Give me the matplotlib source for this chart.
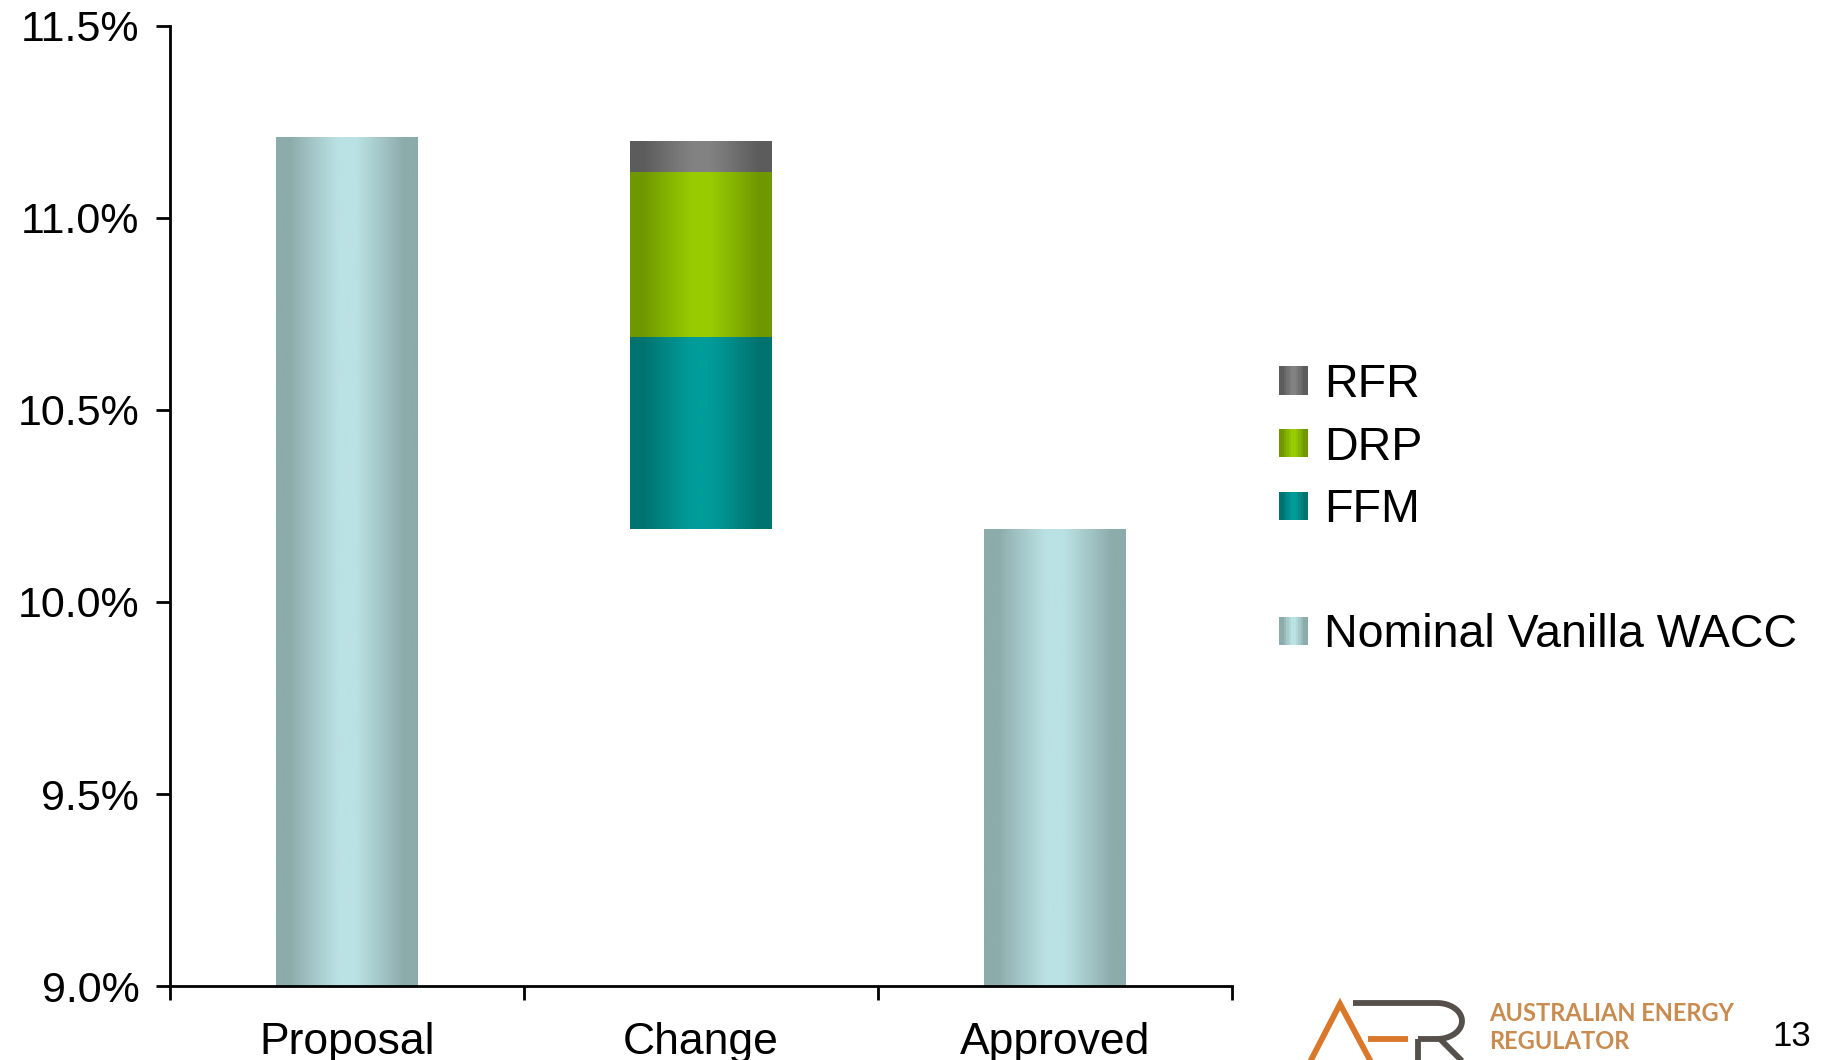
import numpy as np
import matplotlib
matplotlib.use('Agg')
import matplotlib.pyplot as plt
from matplotlib.patches import Rectangle, Patch
from matplotlib.legend_handler import HandlerBase
from matplotlib.lines import Line2D
from matplotlib.colors import to_rgb

plt.rcParams['font.family'] = ['Liberation Sans', 'DejaVu Sans']

# Данные
categories = ['Proposal', 'Change', 'Approved']
wacc_pos = [0, 2]
wacc_vals = [11.21, 10.19]
change_pos = 1
change_names = ['FFM', 'DRP', 'RFR']
change_vals = [0.50, 0.43, 0.08]
y_ticks = [9.0, 9.5, 10.0, 10.5, 11.0, 11.5]

# Цвета градиента (край, центр)
grad_colors = {
    'Nominal Vanilla WACC': ('#8CABAB', '#BAE1E3'),
    'FFM': ('#007370', '#009C9A'),
    'DRP': ('#6F9800', '#99CC00'),
    'RFR': ('#5C5C5C', '#828282'),
}


def grad_row(name, n=64):
    edge, mid = np.array(to_rgb(grad_colors[name][0])), np.array(to_rgb(grad_colors[name][1]))
    t = np.abs(np.linspace(-1, 1, n))
    t = np.clip((t - 0.12) / 0.7, 0, 1) ** 1.1
    return mid[None, :] + (edge - mid)[None, :] * t[:, None]


def grad_bar(ax, bars, name):
    img = grad_row(name)[None, :, :]
    for b in bars:
        x, y, w, h = b.get_x(), b.get_y(), b.get_width(), b.get_height()
        ax.imshow(img, extent=[x, x + w, y, y + h], aspect='auto',
                  interpolation='bilinear', zorder=2)


class GradHandler(HandlerBase):
    def __init__(self, name):
        super().__init__()
        self.name = name

    def create_artists(self, legend, orig_handle, xdescent, ydescent,
                       width, height, fontsize, trans):
        cols = grad_row(self.name, 12)
        size = height * 1.0
        x0 = -xdescent + (width - size) / 2
        y0 = -ydescent + (height - size) / 2
        arts = []
        for i, c in enumerate(cols):
            arts.append(Rectangle((x0 + i * size / len(cols), y0), size / len(cols) * 1.05, size,
                                  facecolor=c, edgecolor='none', transform=trans))
        return arts


fig = plt.figure(figsize=(18.41, 10.60), dpi=100)
ax = fig.add_axes([0.0923, 0.0698, 0.5770, 0.9057])

width = 0.40
b_wacc = ax.bar(wacc_pos, wacc_vals, width=width, color='none')
grad_bar(ax, b_wacc, 'Nominal Vanilla WACC')

bottom = wacc_vals[1]
for name, v in zip(change_names, change_vals):
    b = ax.bar([change_pos], [v], bottom=bottom, width=width, color='none')
    grad_bar(ax, b, name)
    bottom += v

ax.set_xlim(-0.5, 2.5)
ax.set_ylim(9.0, 11.5)
ax.set_yticks(y_ticks)
ax.set_yticklabels(['{:.1f}%'.format(v) for v in y_ticks], fontsize=31)
ax.set_xticks([0, 1, 2])
ax.set_xticklabels(categories, fontsize=32)
ax.set_xticks([-0.5, 0.5, 1.5, 2.5], minor=True)
ax.tick_params(axis='x', which='major', length=0, pad=26)
ax.tick_params(axis='x', which='minor', length=10, width=2, direction='out')
ax.tick_params(axis='y', length=10, width=2, pad=12)
for s in ['top', 'right']:
    ax.spines[s].set_visible(False)
for s in ['left', 'bottom']:
    ax.spines[s].set_linewidth(2)

# Легенда
names = ['RFR', 'DRP', 'FFM', '', 'Nominal Vanilla WACC']
handles = [Patch(label=n) if n else Patch(visible=False, label=' ') for n in names]
hmap = {h: GradHandler(n) for h, n in zip(handles, names) if n}
leg = fig.legend(handles=handles, labels=[n if n else ' ' for n in names],
                 handler_map=hmap, loc='upper left', bbox_to_anchor=(0.672, 0.697),
                 frameon=False, fontsize=33.5, handlelength=0.62, handleheight=0.56,
                 handletextpad=0.35, labelspacing=0.40)

# Логотип AER (линии в пикселях картинки)
W, H = 1841, 1060


def logo_line(xs, ys, color):
    fig.add_artist(Line2D(np.array(xs) / W, 1 - np.array(ys) / H, color=color, lw=4.2,
                          transform=fig.transFigure, solid_capstyle='butt',
                          solid_joinstyle='miter'))


orange, grey = '#D9772A', '#55504B'
logo_line([1310, 1340, 1371], [1062, 1004, 1062], orange)
logo_line([1368, 1408], [1039, 1039], orange)
th = np.linspace(np.pi / 2, -np.pi / 2, 30)
bx = 1437 + 25 * np.cos(th)
by = 1021 - 18 * np.sin(th)
logo_line([1353] + list(bx) + [1418], [1003] + list(by) + [1039], grey)
logo_line([1418, 1418], [1039, 1062], grey)
logo_line([1440, 1463], [1039, 1062], grey)

fig.text(0.809, 0.044, 'AUSTRALIAN ENERGY', fontsize=17, color='#C88B50', family='Lato',
         fontweight='bold', ha='left', va='center')
fig.text(0.809, 0.017, 'REGULATOR', fontsize=17, color='#C88B50', family='Lato',
         fontweight='bold', ha='left', va='center')
fig.text(0.973, 0.022, '13', fontsize=25, color='black', ha='center', va='center')

fig.savefig('out.png', dpi=100)
